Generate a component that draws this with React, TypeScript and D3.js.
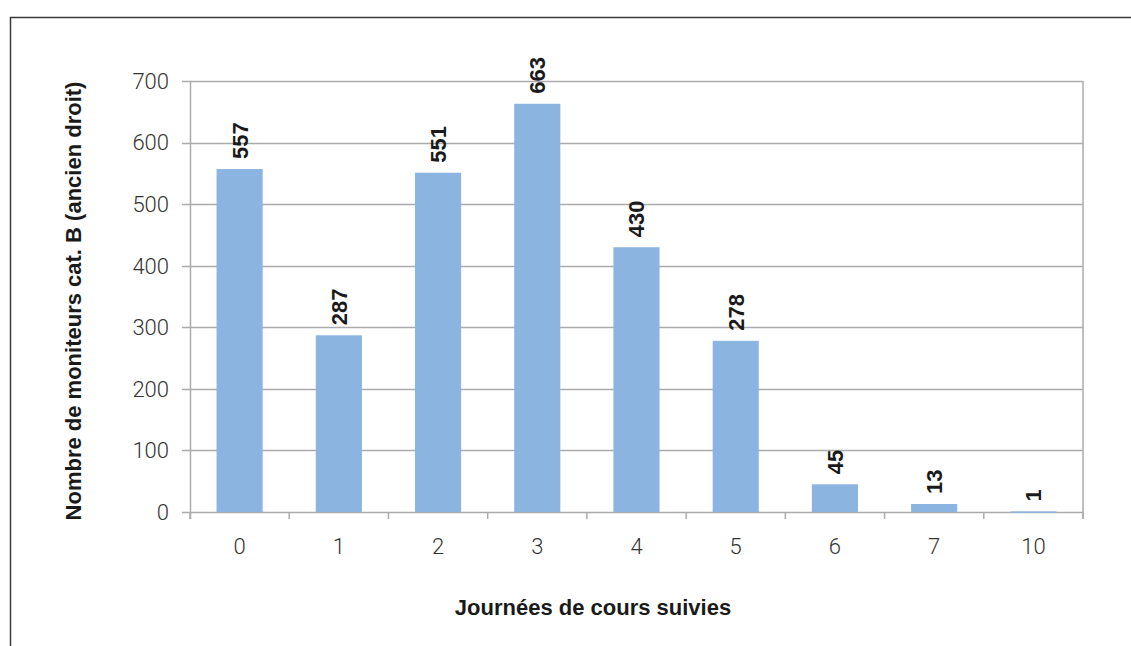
import React from "react";
import * as d3 from "d3";

const categories = ["0", "1", "2", "3", "4", "5", "6", "7", "10"];
const values = [557, 287, 551, 663, 430, 278, 45, 13, 1];
const yTicks = [0, 100, 200, 300, 400, 500, 600, 700];

export default function App() {
  const W = 1131, H = 646;
  const left = 190, right = 1083, top = 81, bottom = 512;
  const x = d3.scaleBand<string>().domain(categories).range([left, right]).paddingInner(0.535).paddingOuter(0.2675);
  const y = d3.scaleLinear().domain([0, 700]).range([bottom, top]);
  const grid = "#ABABAB";
  const tickFont = "Roboto, 'Liberation Sans', sans-serif";
  const boldFont = "'Liberation Sans', Arial, sans-serif";
  const bandEdges = categories.map((c) => x(c)! - (x.step() * x.paddingInner()) / 2).concat([right]);
  return (
    <svg width={W} height={H} style={{ position: "absolute", left: 0, top: 0, background: "#fff" }}>
      <rect x={10.5} y={17.5} width={1200} height={700} fill="none" stroke="#3a3a3a" strokeWidth={1.5} />
      {yTicks.map((t) => (
        <g key={t}>
          <line x1={182} x2={right} y1={Math.round(y(t)) + 0.5} y2={Math.round(y(t)) + 0.5} stroke={grid} strokeWidth={1.5} />
          <text x={169} y={y(t)} dy="0.36em" textAnchor="end" fontFamily={tickFont} fontWeight={300} fontSize={22} fill="#333">
            {t}
          </text>
        </g>
      ))}
      <line x1={left + 0.5} x2={left + 0.5} y1={top} y2={bottom + 7} stroke={grid} strokeWidth={1.5} />
      <line x1={right} x2={right} y1={top} y2={bottom + 7} stroke={grid} strokeWidth={1.5} />
      {bandEdges.map((e, i) => (
        <line key={i} x1={e} x2={e} y1={bottom} y2={bottom + 7} stroke={grid} strokeWidth={1.5} />
      ))}
      {categories.map((c, i) => (
        <g key={c}>
          <rect x={x(c)} y={y(values[i])} width={x.bandwidth()} height={Math.max(1.5, bottom - y(values[i]))} fill="#8CB4E0" />
          <text
            transform={`translate(${x(c)! + x.bandwidth() / 2},${y(values[i]) - 10}) rotate(-90)`}
            dy="0.36em"
            textAnchor="start"
            fontFamily={boldFont}
            fontWeight={700}
            fontSize={22}
            fill="#1a1a1a"
          >
            {values[i]}
          </text>
          <text x={x(c)! + x.bandwidth() / 2} y={546} dy="0.36em" textAnchor="middle" fontFamily={tickFont} fontWeight={300} fontSize={22} fill="#333">
            {c}
          </text>
        </g>
      ))}
      <text x={593} y={607} dy="0.36em" textAnchor="middle" fontFamily={boldFont} fontWeight={700} fontSize={22} fill="#1a1a1a">
        Journées de cours suivies
      </text>
      <text
        transform={`translate(73,301) rotate(-90)`}
        dy="0.36em"
        textAnchor="middle"
        fontFamily={boldFont}
        fontWeight={700}
        fontSize={22}
        fill="#1a1a1a"
      >
        Nombre de moniteurs cat. B (ancien droit)
      </text>
    </svg>
  );
}
